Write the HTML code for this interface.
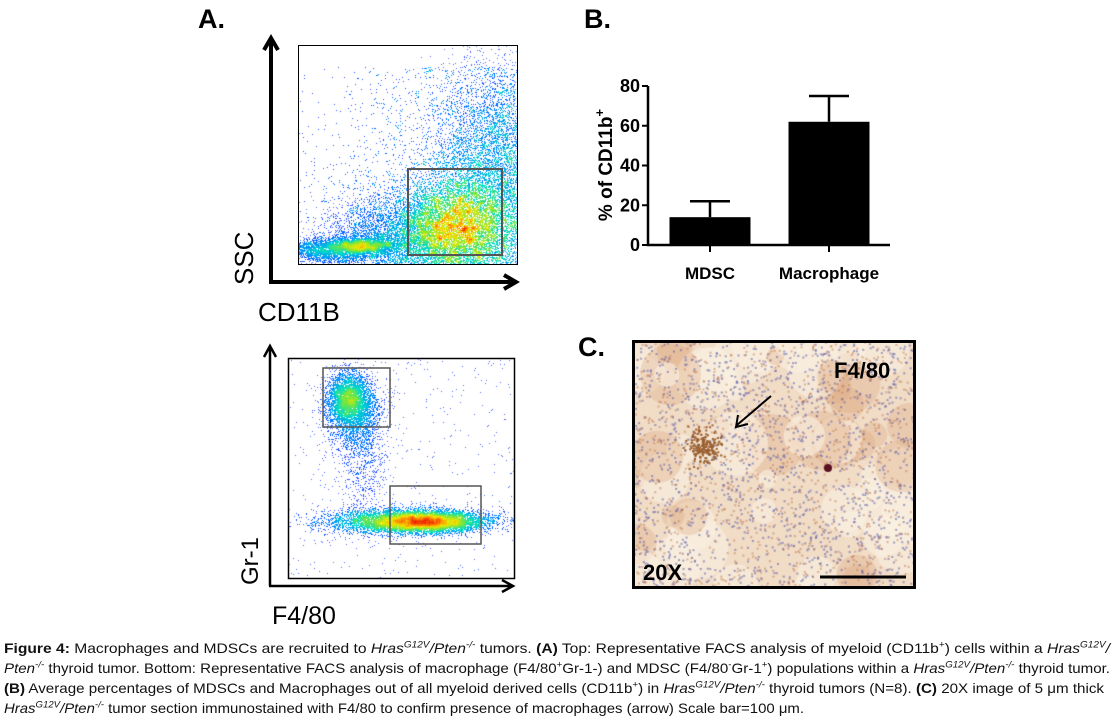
<!DOCTYPE html>
<html><head><meta charset="utf-8"><style>
body{margin:0;width:1112px;height:718px;background:#fff;position:relative;overflow:hidden;font-family:"Liberation Sans",sans-serif}
.abs{position:absolute}
.lbl{font-weight:bold;font-size:27px}
.cap{position:absolute;left:4px;white-space:nowrap;font-family:"Liberation Sans Narrow","Liberation Sans",sans-serif;font-size:14px;transform-origin:0 0;color:#111}
.cap i{font-style:italic}
sup{font-size:9px;line-height:0}
</style></head><body>
<div class="abs lbl" style="left:198px;top:4px">A.</div>
<div class="abs lbl" style="left:584px;top:4px">B.</div>
<div class="abs lbl" style="left:578px;top:332px">C.</div>

<canvas id="facs1" class="abs" style="left:298px;top:45px" width="220" height="220"></canvas>
<canvas id="facs2" class="abs" style="left:288px;top:358px" width="227" height="220"></canvas>

<svg class="abs" style="left:0;top:0" width="1112" height="718">
  <g fill="none" stroke="#000">
    <rect x="298.5" y="45.5" width="219" height="219" stroke-width="1"/>
    <rect x="408" y="169" width="94" height="86" stroke="#555" stroke-width="2"/>
    <path d="M271 282V40 M264 50 L271 38 L278 50" stroke-width="4"/>
    <path d="M269 282H514 M504 275 L516 282 L504 289" stroke-width="4"/>
    <rect x="288.5" y="358.5" width="226" height="220" stroke-width="1.5"/>
    <rect x="323" y="368" width="67" height="59" stroke="#555" stroke-width="1.5"/>
    <rect x="390" y="486" width="91" height="58" stroke="#555" stroke-width="1.5"/>
    <path d="M270 586V347 M264 357 L270 346 L276 357" stroke-width="2.5"/>
    <path d="M269 586H512 M502 580 L513 586 L502 592" stroke-width="2.5"/>
  </g>
  <text x="0" y="0" transform="translate(253,285) rotate(-90)" font-size="26" font-family="Liberation Sans">SSC</text>
  <text x="258" y="321" font-size="26" font-family="Liberation Sans">CD11B</text>
  <text x="0" y="0" transform="translate(258,585) rotate(-90)" font-size="24" font-family="Liberation Sans">Gr-1</text>
  <text x="272" y="624" font-size="25" font-family="Liberation Sans">F4/80</text>
</svg>

<svg id="bar" class="abs" style="left:0;top:0" width="1112" height="330"></svg>

<canvas id="tissue" class="abs" style="left:632px;top:340px" width="284" height="249"></canvas>
<svg class="abs" style="left:632px;top:340px" width="284" height="249">
  <rect x="1.5" y="1.5" width="281" height="246" fill="none" stroke="#000" stroke-width="3"/>
  <text x="202" y="38" font-size="22" font-weight="bold" font-family="Liberation Sans">F4/80</text>
  <text x="11" y="240" font-size="22" font-weight="bold" font-family="Liberation Sans">20X</text>
  <path d="M139 56 L105 85 M106 75 L104 87 L116 84" stroke="#000" stroke-width="2" fill="none"/>
  <path d="M188 237H274" stroke="#000" stroke-width="3"/>
</svg>

<div class="cap" style="top:640px" data-w="1106"><b>Figure 4:</b> Macrophages and MDSCs are recruited to <i>Hras<sup>G12V</sup>/Pten<sup>-/-</sup></i> tumors. <b>(A)</b> Top: Representative FACS analysis of myeloid (CD11b<sup>+</sup>) cells within a <i>Hras<sup>G12V</sup>/</i></div>
<div class="cap" style="top:660px" data-w="1106"><i>Pten<sup>-/-</sup></i> thyroid tumor. Bottom: Representative FACS analysis of macrophage (F4/80<sup>+</sup>Gr-1-) and MDSC (F4/80<sup>-</sup>Gr-1<sup>+</sup>) populations within a <i>Hras<sup>G12V</sup>/Pten<sup>-/-</sup></i> thyroid tumor.</div>
<div class="cap" style="top:680px" data-w="1100"><b>(B)</b> Average percentages of MDSCs and Macrophages out of all myeloid derived cells (CD11b<sup>+</sup>) in <i>Hras<sup>G12V</sup>/Pten<sup>-/-</sup></i> thyroid tumors (N=8). <b>(C)</b> 20X image of 5 μm thick</div>
<div class="cap" style="top:700px" data-w="800"><i>Hras<sup>G12V</sup>/Pten<sup>-/-</sup></i> tumor section immunostained with F4/80 to confirm presence of macrophages (arrow) Scale bar=100 μm.</div>

<script>
// Bar chart data
const categories = ["MDSC", "Macrophage"];
const means = [14, 62];
const errors = [8, 13];
const yTicks = [0, 20, 40, 60, 80];

(function(){
  const svg = document.getElementById('bar');
  const NS = 'http://www.w3.org/2000/svg';
  const x0 = 648, y0 = 245, yTop = 86, yMax = 80;
  const yS = v => y0 - (y0 - yTop) * v / yMax;
  const centers = [710, 829], bw = 81;
  function mk(t, a){ const e = document.createElementNS(NS, t); for (const k in a) e.setAttribute(k, a[k]); svg.appendChild(e); return e; }
  const ax = mk('path', {d:`M${x0} ${yS(yMax)}V${y0}H890`, stroke:'#000', 'stroke-width':2.5, fill:'none'});
  
  
  yTicks.forEach(t => {
    const tk = mk('path', {d:`M${x0-6} ${yS(t)}H${x0}`, stroke:'#000', 'stroke-width':2});
    
    
    const tx = mk('text', {x:x0-8, y:yS(t)+6, 'text-anchor':'end', 'font-size':18, 'font-weight':'bold', 'font-family':'Liberation Sans'});
    tx.textContent = t;
    
    
  });
  categories.forEach((c, i) => {
    const cx = centers[i];
    const top = yS(means[i]+errors[i]);
    const eb = mk('path', {d:`M${cx} ${yS(means[i])}V${top}M${cx-20} ${top}H${cx+20}`, stroke:'#000', 'stroke-width':2.5, fill:'none'});
    
    
    const r = mk('rect', {x:cx-bw/2, y:yS(means[i]), width:bw, height:y0-yS(means[i]), fill:'#000'});
    
    
    const tk = mk('path', {d:`M${cx} ${y0}V${y0+7}`, stroke:'#000', 'stroke-width':2});
    
    
    const tx = mk('text', {x:cx, y:279, 'text-anchor':'middle', 'font-size':17, 'font-weight':'bold', 'font-family':'Liberation Sans'});
    tx.textContent = c;
    
    
  });
  const yt = mk('text', {transform:'translate(612,165) rotate(-90)', 'text-anchor':'middle', 'font-size':19, 'font-weight':'bold', 'font-family':'Liberation Sans'});
  yt.innerHTML = '% of CD11b<tspan dy="-8" font-size="13">+</tspan>';
  
  
})();

// decorative textures (seeded)
let seed = 12345;
function rnd(){ seed = (seed * 1103515245 + 12345) & 0x7fffffff; return seed / 0x7fffffff; }
function gauss(){ let u=rnd()||1e-6, v=rnd(); return Math.sqrt(-2*Math.log(u))*Math.cos(2*Math.PI*v); }
function heat(ctx, w, h, clusters, bg, gam){
  const grid = new Float32Array(w*h);
  clusters.forEach(c => { for (let i=0;i<c.n;i++){ const x=Math.round(c.x+gauss()*c.sx), y=Math.round(c.y+gauss()*c.sy); if(x>=0&&x<w&&y>=0&&y<h) grid[y*w+x]++; } });
  for (let i=0;i<bg.n;i++){ const x=Math.floor(rnd()*w), y=Math.floor(bg.f(rnd())*h); if (rnd()<bg.p(x/w, y/h)) grid[y*w+x]++; }
  const img = ctx.createImageData(w,h);
  const d = new Float32Array(w*h);
  for (let y=0;y<h;y++) for (let x=0;x<w;x++){ let s=0; for(let dy=-2;dy<=2;dy++)for(let dx=-2;dx<=2;dx++){const xx=x+dx,yy=y+dy; if(xx>=0&&xx<w&&yy>=0&&yy<h) s+=grid[yy*w+xx];} d[y*w+x]=s; }
  let mx = 0; for (const v of d) mx = Math.max(mx, v);
  const cols = [[0,30,255],[0,140,255],[0,220,200],[120,230,60],[240,230,0],[255,120,0],[230,20,0]];
  for (let i=0;i<w*h;i++){
    let r=255,g=255,b=255;
    if (grid[i]>0){ const t = Math.min(1, Math.pow(d[i]/mx,gam)); const k=Math.min(cols.length-1.001,t*(cols.length-1)); const a=Math.floor(k), f=k-a; r=cols[a][0]*(1-f)+cols[a+1][0]*f; g=cols[a][1]*(1-f)+cols[a+1][1]*f; b=cols[a][2]*(1-f)+cols[a+1][2]*f; if (t<0.08){ r=r*0.6+255*0.4*(1-t*10); g=g*0.6+255*0.4*(1-t*10);} }
    img.data[i*4]=r; img.data[i*4+1]=g; img.data[i*4+2]=b; img.data[i*4+3]=255;
  }
  ctx.putImageData(img,0,0);
}
heat(document.getElementById('facs1').getContext('2d'), 220, 220,
  [{x:62,y:200,sx:16,sy:4,n:2200},{x:158,y:180,sx:28,sy:26,n:26000},{x:195,y:120,sx:30,sy:55,n:9000},{x:30,y:205,sx:25,sy:6,n:2500},{x:110,y:190,sx:40,sy:20,n:6000}],
  {n:90000, f:r=>0.1+r*0.9, p:(x,y)=>0.03+0.6*Math.pow(x,1.3)*(0.3+y)}, 0.85);
heat(document.getElementById('facs2').getContext('2d'), 227, 220,
  [{x:60,y:40,sx:10,sy:12,n:3000},{x:65,y:55,sx:14,sy:20,n:2000},{x:120,y:163,sx:40,sy:6,n:9000},{x:75,y:110,sx:12,sy:35,n:600},{x:140,y:163,sx:25,sy:5,n:4000}],
  {n:1500, f:r=>r, p:()=>0.3}, 0.7);

(function(){
  const c = document.getElementById('tissue').getContext('2d');
  c.fillStyle = '#f1dcc6'; c.fillRect(0,0,284,249);
  for (let i=0;i<60;i++){ c.fillStyle = rnd()<0.5 ? 'rgba(250,240,225,0.6)' : 'rgba(220,170,130,0.35)'; c.beginPath(); c.arc(rnd()*284, rnd()*249, 8+rnd()*25, 0, 7); c.fill(); }
  for (let i=0;i<2500;i++){ c.fillStyle = rnd()<0.55 ? 'rgba(90,90,170,0.55)' : 'rgba(190,120,80,0.5)'; c.fillRect(rnd()*284, rnd()*249, 2, 2); }
  c.fillStyle = '#9a6030';
  for (let i=0;i<200;i++){ c.fillRect(70+gauss()*9, 105+gauss()*8, 2, 2); }
  c.fillStyle = '#5a1020'; c.beginPath(); c.arc(196,128,4,0,7); c.fill();
})();

document.querySelectorAll('.cap').forEach((el,i) => {
  
  
  const w = el.getBoundingClientRect().width;
  el.style.transform = 'scaleX(' + (parseFloat(el.dataset.w) / w) + ')';
});
</script>
</body></html>
